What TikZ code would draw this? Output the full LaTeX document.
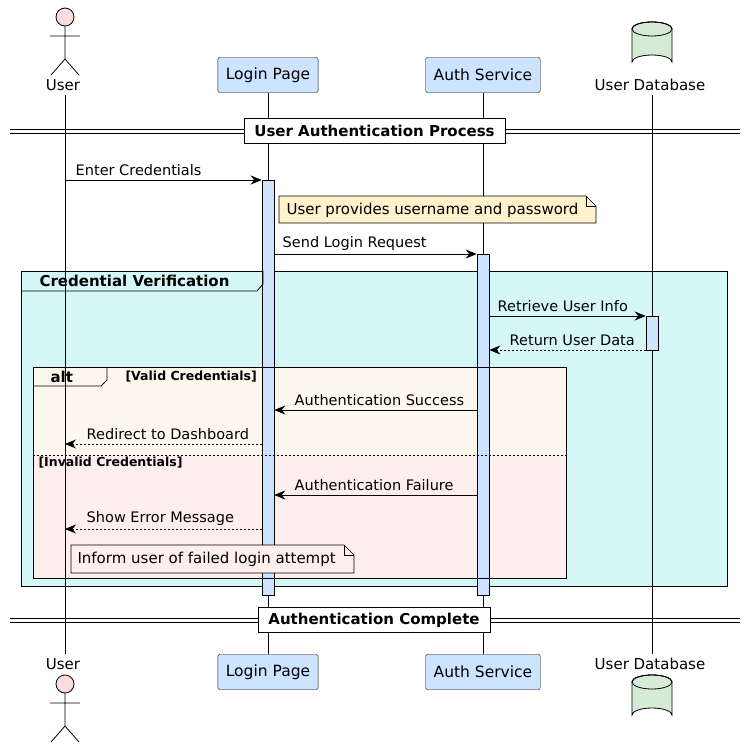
\documentclass[tikz,border=0pt]{standalone}
\usepackage{fontspec}
\setmainfont{DejaVu Sans}
\usetikzlibrary{arrows.meta,shapes.geometric,calc}
\definecolor{partblue}{RGB}{204,228,255}
\definecolor{actorpink}{RGB}{250,220,220}
\definecolor{dbgreen}{RGB}{214,234,214}
\definecolor{groupcyan}{RGB}{214,247,248}
\definecolor{altcream}{RGB}{253,248,238}
\definecolor{altpink}{RGB}{254,238,238}
\definecolor{noteyellow}{RGB}{255,242,204}
\definecolor{notepink}{RGB}{255,238,238}
\tikzset{
  part/.style={draw,rounded corners=2pt,fill=partblue,minimum height=35pt,inner xsep=8pt,font=\fontsize{15.5}{17}\selectfont},
  lbl/.style={font=\fontsize{15}{17}\selectfont},
  mlbl/.style={font=\fontsize{14.5}{17}\selectfont,anchor=south west,inner ysep=3.5pt},
  msg/.style={-{Stealth[length=11pt,width=9pt]},line width=0.8pt},
  rmsg/.style={msg,dash pattern=on 2pt off 2pt},
  act/.style={draw,fill=partblue,line width=0.6pt},
  divbox/.style={draw,fill=white,font=\bfseries\fontsize{15}{17}\selectfont,minimum height=25pt},
  tab/.style={font=\bfseries\fontsize{15}{17}\selectfont},
  guard/.style={font=\bfseries\fontsize{12.5}{14}\selectfont}
}
\newcommand{\actor}[2]{% x, head y
  \draw[line width=0.8pt,fill=actorpink] (#1,#2) circle (9);
  \draw[line width=0.8pt] (#1,#2+9) -- (#1,#2+42) (#1-15,#2+19) -- (#1+15,#2+19)
    (#1-14,#2+58) -- (#1,#2+42) -- (#1+14,#2+58);}
\newcommand{\dbcyl}[2]{% x, top y
  \draw[line width=0.8pt,fill=dbgreen] (#1-20,#2+7) -- (#1-20,#2+40)
    arc[start angle=180,end angle=360,x radius=20,y radius=7] -- (#1+20,#2+7)
    arc[start angle=0,end angle=-180,x radius=20,y radius=7];
  \draw[line width=0.8pt,fill=dbgreen] (#1,#2+7) ellipse[x radius=20,y radius=7];
  \draw[line width=0.8pt] (#1+20,#2+7) arc[start angle=0,end angle=-180,x radius=20,y radius=7];}
\begin{document}
\begin{tikzpicture}[x=1pt,y=-1pt]
\useasboundingbox (0,0) rectangle (750,750);
% groups
\draw[line width=0.8pt,fill=groupcyan] (21,271) rectangle (727,586);
\fill[altcream] (33,367) rectangle (566,455);
\fill[altpink] (33,455) rectangle (566,578);
% participants
\node[lbl] (userT) at (63,85) {User};
\node[part] (loginT) at (268,75) {Login Page};
\node[part] (authT) at (483,75) {Auth Service};
\node[lbl] (dbT) at (650,85) {User Database};
\node[lbl] (userB) at (63,664) {User};
\node[part] (loginB) at (268,672) {Login Page};
\node[part] (authB) at (483,672) {Auth Service};
\node[lbl] (dbB) at (650,664) {User Database};
\actor{65}{17}
\actor{65}{684}
\dbcyl{652}{22}
\dbcyl{652}{675}
% lifelines
\draw[line width=0.6pt] (65,95) -- (65,654) (loginT) -- (loginB) (authT) -- (authB) (652,95) -- (652,654);
% activations
\node[act,minimum width=12pt,minimum height=415pt,inner sep=0] (actL) at (268,387.5) {};
\node[act,minimum width=12pt,minimum height=341pt,inner sep=0] (actA) at (483,424.5) {};
\node[act,minimum width=12pt,minimum height=34pt,inner sep=0] (actD) at (652,333) {};
% dividers
\draw[line width=0.6pt] (10,129) -- (740,129) (10,133) -- (740,133) (10,618) -- (740,618) (10,622) -- (740,622);
\node[divbox,minimum width=261pt] at (374.5,131) {User Authentication Process};
\node[divbox,minimum width=232pt] at (374,620) {Authentication Complete};
% group frames
\draw[line width=0.8pt] (21,291) -- (257,291) -- (263,284) -- (263,271);
\node[tab,anchor=west] at (36,281) {Credential Verification};
\draw[line width=0.8pt] (33,367) rectangle (566,578);
\draw[line width=0.8pt] (33,386) -- (101,386) -- (107,380) -- (107,367);
\node[tab,anchor=west] at (47,377) {alt};
\node[guard,anchor=west] at (122,377) {[Valid Credentials]};
\draw[line width=0.6pt,dash pattern=on 2pt off 2pt] (33,455) -- (566,455);
\node[guard,anchor=west] at (35,463) {[Invalid Credentials]};
% notes
\draw[line width=0.6pt,fill=noteyellow] (279,196) -- (586,196) -- (596,206) -- (596,223) -- (279,223) -- cycle;
\draw[line width=0.6pt] (586,196) -- (586,206) -- (596,206);
\node[lbl,anchor=west] at (283,210) {User provides username and password};
\draw[line width=0.6pt,fill=notepink] (71,545) -- (344,545) -- (354,555) -- (354,573) -- (71,573) -- cycle;
\draw[line width=0.6pt] (344,545) -- (344,555) -- (354,555);
\node[lbl,anchor=west] at (74,559) {Inform user of failed login attempt};
% messages
\draw[msg] (65,180) -- (actL.west |- 0,180) node[mlbl] at (72,180) {Enter Credentials};
\draw[msg] (actL.east |- 0,254) -- (actA.west |- 0,254) node[mlbl] at (279,254) {Send Login Request};
\draw[msg] (actA.east |- 0,316) -- (actD.west |- 0,316) node[mlbl] at (494,316) {Retrieve User Info};
\draw[rmsg] (actD.west |- 0,350) -- (actA.east |- 0,350) node[mlbl] at (506,350) {Return User Data};
\draw[msg] (actA.west |- 0,410) -- (actL.east |- 0,410) node[mlbl] at (291,410) {Authentication Success};
\draw[rmsg] (actL.west |- 0,444) -- (65,444) node[mlbl] at (83,444) {Redirect to Dashboard};
\draw[msg] (actA.west |- 0,495) -- (actL.east |- 0,495) node[mlbl] at (291,495) {Authentication Failure};
\draw[rmsg] (actL.west |- 0,529) -- (65,529) node[mlbl] at (83,529) {Show Error Message};
\end{tikzpicture}
\end{document}
